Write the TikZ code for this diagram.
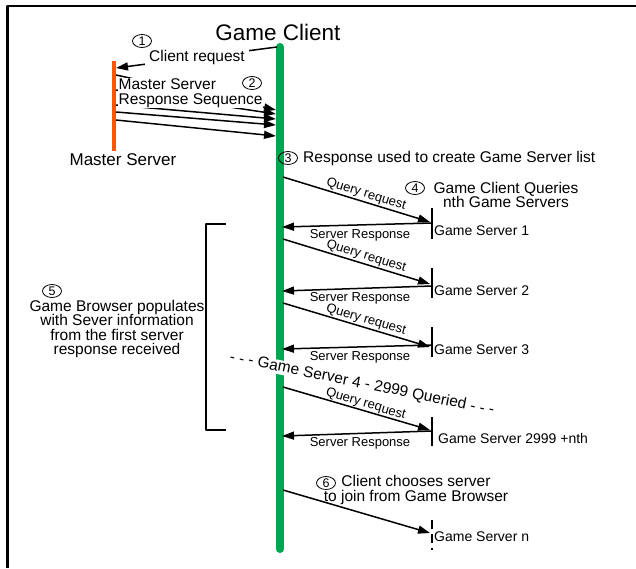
\documentclass[tikz,border=0pt]{standalone}
\usepackage{fontspec}
\setmainfont{Liberation Sans}
\usetikzlibrary{arrows.meta,shapes.geometric}
\definecolor{clientgreen}{RGB}{0,166,80}
\definecolor{masterorange}{RGB}{255,85,0}

\begin{document}
\begin{tikzpicture}[x=1pt,y=-1pt,line join=round,
  >={Triangle[length=12pt,width=8pt]},
  msg/.style={line width=1.5pt,->},
  num/.style={draw,ellipse,line width=0.8pt,minimum width=19pt,minimum height=13pt,inner sep=0pt,font=\fontsize{12.5}{12.5}\selectfont},
  lbl/.style={font=\fontsize{15.5}{14.5}\selectfont,inner sep=1pt},
  small/.style={font=\fontsize{13}{13}\selectfont,inner sep=1pt},
  srv/.style={font=\fontsize{14}{14}\selectfont,anchor=west,inner sep=1pt},
  tick/.style={line width=2pt}]
  \useasboundingbox (0,0) rectangle (636,568);
  \draw[line width=2.5pt] (7.5,568) -- (7.5,6) -- (636,6);

  % the two lifelines
  \coordinate (gctop) at (280,47);
  \coordinate (gcbot) at (280,549);
  \coordinate (mstop) at (114,61);
  \coordinate (msbot) at (114,151);
  \draw[line width=8pt,line cap=round,clientgreen] (gctop) -- (gcbot);
  \draw[line width=4pt,masterorange] (mstop) -- (msbot);
  \node[font=\fontsize{22.5}{22.5}\selectfont] (gc) at (278,32) {Game Client};
  \node[font=\fontsize{17}{17}\selectfont] (ms) at (123,160) {Master Server};

  % step 1
  \coordinate (cra) at (277,47);
  \coordinate (crb) at (116,68);
  \draw[msg] (cra) -- (crb);
  \node[lbl,fill=white,inner xsep=4pt] (crl) at (197,57) {Client request};
  \node[num] (n1) at (142,41) {1};

  % step 2
  \coordinate (m1a) at (116,75);  \coordinate (m1b) at (276,110);
  \coordinate (m2a) at (116,90);  \coordinate (m2b) at (276,114);
  \coordinate (m3a) at (116,105); \coordinate (m3b) at (276,119);
  \coordinate (m4a) at (116,112); \coordinate (m4b) at (276,125);
  \coordinate (m5a) at (116,120); \coordinate (m5b) at (276,136);
  \draw[msg] (m1a) -- (m1b);
  \draw[msg] (m2a) -- (m2b);
  \draw[msg] (m3a) -- (m3b);
  \draw[msg] (m4a) -- (m4b);
  \draw[msg] (m5a) -- (m5b);
  \node[lbl,fill=white,align=left,anchor=north west,inner sep=0.5pt] (msr) at (118,78) {Master Server\\Response Sequence};
  \node[num] (n2) at (252,83) {2};

  % step 3
  \node[num] (n3) at (288,158) {3};
  \node[lbl,anchor=west] (rsl) at (302,158) {Response used to create Game Server list};

  % step 4
  \node[num] (n4) at (415,188) {4};
  \node[lbl,align=center] (gcq) at (506,195) {Game Client Queries\\nth Game Servers};

  \coordinate (gs1t) at (432,208); \coordinate (gs1b) at (432,239);
  \coordinate (gs2t) at (432,268); \coordinate (gs2b) at (432,298);
  \coordinate (gs3t) at (432,327); \coordinate (gs3b) at (432,357);
  \coordinate (gs4t) at (432,417); \coordinate (gs4b) at (432,446);
  \coordinate (gsnt) at (432,520); \coordinate (gsnb) at (432,550);
  \draw[tick] (gs1t) -- (gs1b);
  \draw[tick] (gs2t) -- (gs2b);
  \draw[tick] (gs3t) -- (gs3b);
  \draw[tick] (gs4t) -- (gs4b);
  \draw[tick,dash pattern=on 9pt off 5pt] (gsnt) -- (gsnb);
  \node[srv] (gs1) at (433,231) {Game Server 1};
  \node[srv] (gs2) at (433,291) {Game Server 2};
  \node[srv] (gs3) at (433,350) {Game Server 3};
  \node[srv] (gs4) at (437,438) {Game Server 2999 +nth};
  \node[srv] (gsn) at (433,537) {Game Server n};

  \coordinate (q1a) at (283,177); \coordinate (q1b) at (430,222);
  \coordinate (q2a) at (283,239); \coordinate (q2b) at (430,284);
  \coordinate (q3a) at (283,303); \coordinate (q3b) at (430,347);
  \coordinate (q4a) at (283,387); \coordinate (q4b) at (430,430);
  \coordinate (qna) at (283,490); \coordinate (qnb) at (430,533);
  \coordinate (s1a) at (432,223); \coordinate (s1b) at (282,227);
  \coordinate (s2a) at (432,286); \coordinate (s2b) at (282,291);
  \coordinate (s3a) at (432,345); \coordinate (s3b) at (282,349);
  \coordinate (s4a) at (432,431); \coordinate (s4b) at (282,436);
  \draw[msg] (q1a) -- node[small,sloped,above,pos=0.55] {Query request} (q1b);
  \draw[msg] (s1a) -- node[small,below=2.5pt,pos=0.48] {Server Response} (s1b);
  \draw[msg] (q2a) -- node[small,sloped,above,pos=0.55] {Query request} (q2b);
  \draw[msg] (s2a) -- node[small,below=2.5pt,pos=0.48] {Server Response} (s2b);
  \draw[msg] (q3a) -- node[small,sloped,above,pos=0.55] {Query request} (q3b);
  \draw[msg] (s3a) -- node[small,below=2.5pt,pos=0.48] {Server Response} (s3b);
  \node[lbl,fill=white,rotate=-11.5,inner ysep=0pt] (more) at (362,384) {- - - Game Server 4 - 2999 Queried - - -};
  \draw[msg] (q4a) -- node[small,sloped,above=-1pt,pos=0.55] {Query request} (q4b);
  \draw[msg] (s4a) -- node[small,below=2.5pt,pos=0.48] {Server Response} (s4b);

  % step 5
  \draw[line width=2pt] (226,224) -- (206,224) -- (206,430) -- (226,430);
  \node[num] (n5) at (52,291) {5};
  \node[lbl,align=center] (gb) at (117,329) {Game Browser populates\\with Sever information\\from the first server\\response received};

  % step 6
  \node[num] (n6) at (326,483) {6};
  \node[lbl,align=center] (cc) at (416,490) {Client chooses server\\to join from Game Browser};
  \draw[msg] (qna) -- (qnb);
\end{tikzpicture}
\end{document}
